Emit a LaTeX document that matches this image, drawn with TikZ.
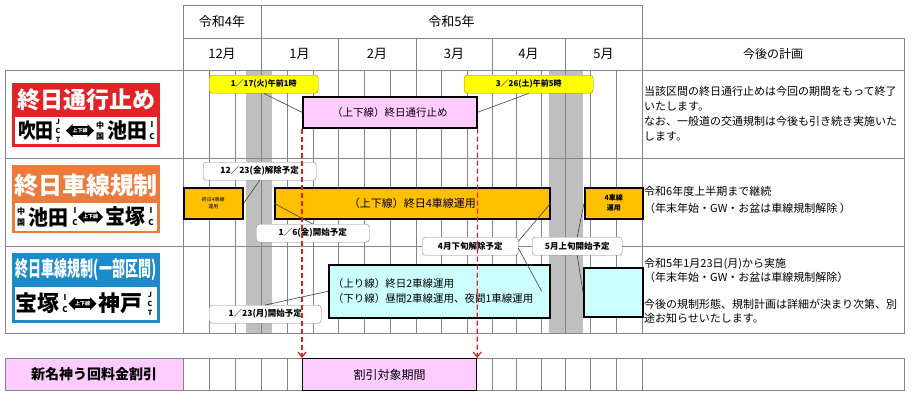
\documentclass[tikz,border=0pt]{standalone}
\usepackage{fontspec}
\setmainfont{Noto Sans CJK JP}
\usetikzlibrary{shapes.arrows,arrows.meta}
\definecolor{lblred}{HTML}{E32228}
\definecolor{lblorange}{HTML}{EC7A3A}
\definecolor{lblblue}{HTML}{1C8ACB}
\definecolor{callyel}{HTML}{FFFF00}
\definecolor{callyelb}{HTML}{8C8C30}
\definecolor{barorange}{HTML}{FFC000}
\definecolor{barpink}{HTML}{FFCCFF}
\definecolor{barcyan}{HTML}{CCFFFF}
\definecolor{bandc}{HTML}{BFBFBF}
\definecolor{gridc}{HTML}{858585}
\definecolor{dashred}{HTML}{E02020}
\newcommand{\fz}[2]{\fontsize{#1}{#2}\selectfont}
\begin{document}
\begin{tikzpicture}[x=1pt,y=-1pt,
  gridline/.style={draw=gridc, line width=0.7pt},
  bar/.style={draw=black, line width=1.6pt, inner sep=0pt, anchor=north west},
  callY/.style={draw=callyelb, fill=callyel, rounded corners=3pt, minimum height=18pt, inner sep=1pt, anchor=north west, font=\bfseries\fz{8}{9}},
  callW/.style={draw=gridc, fill=white, rounded corners=3pt, minimum height=18pt, inner sep=1pt, anchor=north west, font=\bfseries\fz{8.5}{9}},
  conn/.style={draw=black!75, line width=0.6pt},
  redarrow/.style={draw=dashred, line width=1.2pt, dash pattern=on 5pt off 3pt, -{Straight Barb[length=5pt,width=8pt]}},
  plan/.style={anchor=north west, align=left, inner sep=0pt},
  bigk/.style={font=\bfseries\fz{21}{21}, inner sep=0pt},
  stack/.style={font=\bfseries\fz{7}{9}, align=center, inner sep=0pt},
  stackic/.style={font=\bfseries\fz{8}{12}, align=center, inner sep=0pt},
  stackcj/.style={font=\bfseries\fz{8}{11}, align=center, inner sep=0pt},
  updown/.style={double arrow, fill=black, minimum height=28pt, minimum width=13pt, double arrow head extend=1.5pt, inner sep=0.5pt, font=\bfseries\fz{5}{5}, text=white},
  lbox/.style={minimum width=148pt, anchor=north west, inner sep=0pt},
  inbox/.style={fill=white, minimum width=142pt, anchor=north west, inner sep=0pt},
  ttl/.style={font=\bfseries\fz{23}{23}, text=white, inner sep=0pt}
]
\useasboundingbox (0,0) rectangle (913,400);
\fill[white] (0,0) rectangle (913,400);

% gray bands
\fill[bandc] (246,70) rectangle (272,333);
\fill[bandc] (549,70) rectangle (583,333);

% header grid
\draw[gridline] (183,5) rectangle (642,38);
\draw[gridline] (261,5) -- (261,38);
\draw[gridline] (183,38) rectangle (904,70);
\foreach \x in {261,338,416,492,565,642} \draw[gridline] (\x,38) -- (\x,70);

% body grid
\draw[gridline] (5,70) rectangle (904,333);
\foreach \yy in {158,246} \draw[gridline] (5,\yy) -- (904,\yy);
\foreach \x in {183,261,338,416,492,565,642} \draw[gridline] (\x,70) -- (\x,333);
\foreach \x in {209,235,287,313,364,390,441,467,516,541,590,616} \draw[gridline] (\x,70) -- (\x,333);

% bottom row grid
\node[fill=barpink, minimum width=178pt, minimum height=32pt, anchor=north west, inner sep=0pt, font=\bfseries\fz{14}{14}] (dlabel) at (5,358) {新名神う回料金割引};
\draw[gridline] (5,358) rectangle (904,390);
\foreach \x in {183,209,235,261,287,313,338,364,390,416,441,467,492,516,541,565,590,616,642} \draw[gridline] (\x,358) -- (\x,390);

% header texts
\node[font=\fz{13}{13}] (y4) at (222,21.5) {令和4年};
\node[font=\fz{13}{13}] (y5) at (451.5,21.5) {令和5年};
\node[font=\fz{13}{13}] (m12) at (222,54) {12月};
\node[font=\fz{13}{13}] (m1) at (299.5,54) {1月};
\node[font=\fz{13}{13}] (m2) at (377,54) {2月};
\node[font=\fz{13}{13}] (m3) at (454,54) {3月};
\node[font=\fz{13}{13}] (m4) at (528.5,54) {4月};
\node[font=\fz{13}{13}] (m5) at (603.5,54) {5月};
\node[font=\fz{12}{12}] (plan) at (773,54) {今後の計画};

% ---------- row 1 ----------
\node[lbox, fill=lblred, minimum height=64pt] (lab1) at (12,83) {};
\node[inbox, minimum height=27pt] (lab1in) at (15,117) {};
\node[ttl] (lab1t) at (86,100) {終日通行止め};
\node[bigk] (l1a) at (36,130.5) {\scalebox{0.85}[1]{吹田}};
\node[stack] (l1b) at (58,130.5) {J\\C\\T};
\node[updown] (l1c) at (80,130.5) {上下線};
\node[stackcj] (l1d) at (100,130.5) {中\\国};
\node[bigk] (l1e) at (127,130.5) {\scalebox{0.95}[1]{池田}};
\node[stackic] (l1f) at (152,130.5) {I\\C};

\node[bar, fill=barpink, minimum width=174pt, minimum height=31pt, font=\fz{10.5}{11}] (stop) at (302,96) {（上下線）終日通行止め};
\node[callY, minimum width=109pt] (t117) at (209,75) {1／17(火)午前1時};
\node[callY, minimum width=129pt] (t326) at (464,75) {3／26(土)午前5時};
\draw[conn] (t117.south) -- (stop.west);
\draw[conn] (t326.south) -- (stop.east);

\node[plan, font=\fz{11}{15}] (plan1) at (644,86) {当該区間の終日通行止めは今回の期間をもって終了\\いたします。\\なお、一般道の交通規制は今後も引き続き実施いた\\します。};

% ---------- row 2 ----------
\node[lbox, fill=lblorange, minimum height=68pt] (lab2) at (12,165) {};
\node[inbox, minimum height=28pt] (lab2in) at (15,203) {};
\node[ttl, font=\bfseries\fz{24}{24}] (lab2t) at (86,185) {終日車線規制};
\node[stackcj] (l2a) at (21,217) {中\\国};
\node[bigk] (l2b) at (48,217) {\scalebox{0.95}[1]{池田}};
\node[stackic] (l2c) at (75,217) {I\\C};
\node[updown, minimum height=24pt] (l2d) at (90.5,217) {上下線};
\node[bigk] (l2e) at (125,217) {\scalebox{0.95}[1]{宝塚}};
\node[stackic] (l2f) at (151,217) {I\\C};

\node[bar, fill=barorange, minimum width=59pt, minimum height=31pt, align=center, font=\fz{5}{7}] (o4a) at (183,187) {終日4車線\\運用};
\node[bar, fill=barorange, minimum width=275pt, minimum height=31pt, font=\fz{11}{11}] (o4b) at (274,187) {（上下線）終日4車線運用};
\node[bar, fill=barorange, minimum width=58pt, minimum height=31pt, align=center, font=\bfseries\fz{7}{10}] (o4c) at (584,187) {4車線\\運用};

\node[callW, minimum width=113pt] (c1223) at (203,162) {12／23(金)解除予定};
\node[callW, minimum width=113pt] (c16) at (256,224) {1／6(金)開始予定};
\draw[conn] (c1223.south) -- (o4a.east);
\draw[conn] (o4b.west) -- (c16.north);

\node[plan, font=\fz{11}{17.5}] (plan2) at (644,186) {令和6年度上半期まで継続\\（年末年始・GW・お盆は車線規制解除 ）};

% ---------- row 3 ----------
\node[lbox, fill=lblblue, minimum height=70pt] (lab3) at (12,253) {};
\node[inbox, minimum height=33pt] (lab3in) at (15,287) {};
\node[ttl, font=\bfseries\fz{21}{21}] (lab3t) at (86,270) {\scalebox{0.62}[1]{終日車線規制(一部区間)}};
\node[bigk, font=\bfseries\fz{22}{22}] (l3a) at (38,303.5) {宝塚};
\node[stackic] (l3b) at (65,303.5) {I\\C};
\node[updown] (l3c) at (82.5,303.5) {上下線};
\node[bigk, font=\bfseries\fz{22}{22}] (l3d) at (120,303.5) {神戸};
\node[stack] (l3e) at (150,303.5) {J\\C\\T};

\node[bar, fill=barcyan, minimum width=221pt, minimum height=53pt, inner xsep=4pt, text width=213pt, align=left, font=\fz{10.5}{15}] (cy1) at (328,264) {（上り線）終日2車線運用\\（下り線）昼間2車線運用、夜間1車線運用};
\node[bar, fill=barcyan, minimum width=59pt, minimum height=49pt] (cy2) at (583,267) {};
\node[callW, minimum width=112pt] (c123) at (209,305) {1／23(月)開始予定};
\draw[conn] (c123.north) -- (cy1.west);

\node[callW, minimum width=96pt] (c4) at (422,237) {4月下旬解除予定};
\node[callW, minimum width=90pt] (c5) at (532,237) {5月上旬開始予定};
\draw[conn] ([yshift=5pt]c4.east) -- (o4b.east);
\draw[conn] ([yshift=-2pt]c4.east) -- ([xshift=-9pt]cy1.east);
\draw[conn] (c5.north) -- (o4c.west);
\draw[conn] (c5.south) -- (cy2.west);

\node[plan, font=\fz{11}{13.7}] (plan3) at (644,258) {令和5年1月23日(月)から実施\\（年末年始・GW・お盆は車線規制解除）\\[13.7pt]今後の規制形態、規制計画は詳細が決まり次第、別\\途お知らせいたします。};

% ---------- discount row ----------
\node[bar, fill=barpink, line width=1.2pt, minimum width=174pt, minimum height=32pt, font=\fz{12}{12}] (disc) at (302,358) {割引対象期間};
\draw[redarrow] (stop.south west) -- (disc.north west);
\draw[redarrow] (stop.south east) -- (disc.north east);
\end{tikzpicture}
\end{document}
